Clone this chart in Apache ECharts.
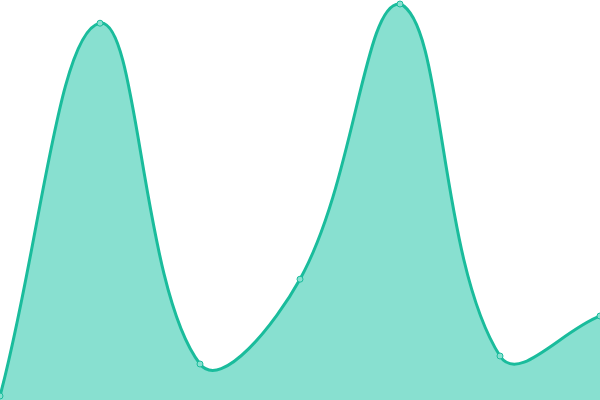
<!DOCTYPE html>
<html>
<head>
<meta charset="utf-8">
<script src="https://cdn.jsdelivr.net/npm/echarts@6/dist/echarts.min.js"></script>
<style>
  html, body { margin: 0; padding: 0; background: #fff; }
  #chart { width: 600px; height: 400px; }
</style>
</head>
<body>
<div id="chart"></div>
<script>
// 数据
const categories = ['A', 'B', 'C', 'D', 'E', 'F', 'G'];
const values = [1, 94.2, 9, 30.2, 99, 11, 21];

const tension = 0.4;
const lineColor = '#1abc9c';
const fillColor = '#88e0d0';

// 样条控制点（不做极值截断，曲线会略微越过数据点）
function buildPaths(pts, w, h) {
  const cps = pts.map((p, i) => {
    const prev = pts[i - 1] || p;
    const next = pts[i + 1] || p;
    const d01 = Math.hypot(p[0] - prev[0], p[1] - prev[1]);
    const d12 = Math.hypot(next[0] - p[0], next[1] - p[1]);
    let s01 = d01 / (d01 + d12 || 1);
    let s12 = d12 / (d01 + d12 || 1);
    const fa = tension * s01;
    const fb = tension * s12;
    const clampY = (y) => Math.max(0, Math.min(h, y));
    return {
      prev: [p[0] - fa * (next[0] - prev[0]), clampY(p[1] - fa * (next[1] - prev[1]))],
      next: [p[0] + fb * (next[0] - prev[0]), clampY(p[1] + fb * (next[1] - prev[1]))],
    };
  });
  let d = 'M' + pts[0][0] + ',' + pts[0][1];
  for (let i = 1; i < pts.length; i++) {
    const a = cps[i - 1].next;
    const b = cps[i].prev;
    d += 'C' + a[0] + ',' + a[1] + ',' + b[0] + ',' + b[1] + ',' + pts[i][0] + ',' + pts[i][1];
  }
  return d;
}

const myChart = echarts.init(document.getElementById('chart'));
const option = {
  animation: false,
  grid: { left: 0, right: 0, top: 0, bottom: 0 },
  xAxis: {
    type: 'category',
    boundaryGap: false,
    data: categories,
    show: false,
  },
  yAxis: {
    type: 'value',
    min: 0,
    max: 100,
    show: false,
  },
  series: [
    {
      type: 'custom',
      data: [0],
      z: 1,
      renderItem: (params, api) => {
        const pts = values.map((v, i) => api.coord([i, v]));
        const base = api.coord([0, 0])[1];
        const line = buildPaths(pts, 600, 400);
        const area = line + 'L' + pts[pts.length - 1][0] + ',' + base + 'L' + pts[0][0] + ',' + base + 'Z';
        return {
          type: 'group',
          children: [
            {
              type: 'path',
              shape: { pathData: area },
              style: { fill: fillColor, stroke: null },
            },
            {
              type: 'path',
              shape: { pathData: line },
              style: { fill: null, stroke: lineColor, lineWidth: 3 },
            },
          ],
        };
      },
    },
    {
      type: 'line',
      data: values,
      z: 3,
      symbol: 'circle',
      symbolSize: 6,
      itemStyle: {
        color: fillColor,
        borderColor: lineColor,
        borderWidth: 1,
      },
      lineStyle: { opacity: 0 },
    },
  ],
};
myChart.setOption(option);
</script>
</body>
</html>
